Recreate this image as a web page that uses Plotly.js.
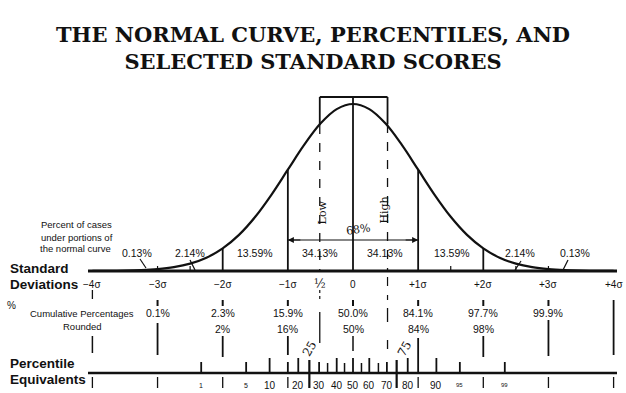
<!DOCTYPE html>
<html><head><meta charset="utf-8">
<script src="https://cdn.plot.ly/plotly-3.0.1.min.js"></script>
<style>html,body{margin:0;padding:0;background:#fff}#chart{width:626px;height:393px}</style>
</head><body><div id="chart"></div>
<script>
// ---- data ----
const curveZ = [-4,-3.75,-3.5,-3.25,-3,-2.75,-2.5,-2.25,-2,-1.75,-1.5,-1.25,-1,-0.75,-0.5,-0.25,0,0.25,0.5,0.75,1,1.25,1.5,1.75,2,2.25,2.5,2.75,3,3.25,3.5,3.75,4];
const curveDensity = [0.0001,0.0004,0.0009,0.0020,0.0044,0.0091,0.0175,0.0317,0.0540,0.0863,0.1295,0.1826,0.2420,0.3011,0.3521,0.3867,0.3989,0.3867,0.3521,0.3011,0.2420,0.1826,0.1295,0.0863,0.0540,0.0317,0.0175,0.0091,0.0044,0.0020,0.0009,0.0004,0.0001];
const sigmaValues = [-4,-3,-2,-1,0,1,2,3,4];
const sigmaLabels = ['\u22124\u03c3','\u22123\u03c3','\u22122\u03c3','\u22121\u03c3','0','+1\u03c3','+2\u03c3','+3\u03c3','+4\u03c3'];
const regionLabels = ['0.13%','2.14%','13.59%','34.13%','34.13%','13.59%','2.14%','0.13%'];
const cumulativeZ = [-3,-2,-1,0,1,2,3];
const cumulativePct = ['0.1%','2.3%','15.9%','50.0%','84.1%','97.7%','99.9%'];
const roundedPct = ['','2%','16%','50%','84%','98%',''];
const percentileLabels = ['1','5','10','20','30','40','50','60','70','80','90','95','99'];
const percentileZ = [-2.33,-1.64,-1.28,-0.84,-0.52,-0.25,0,0.25,0.52,0.84,1.28,1.64,2.33];
const minorPercentileZ = [-0.39,-0.13,0.13,0.39];
const quartileZ = [-0.67,0.67];
const quartileLabels = ['25','75'];
const bandZ = [-0.51,0.53];

// ---- layout helpers (pixel geometry) ----
const H = 393, CX = 353, SX = 65.15, BASE = 271, PXD = 418.6;
const P = px => 1 - px / H;               // pixel row -> paper y
const Zp = px => (px - CX) / SX;          // pixel column -> z
const dens = z => { let i = curveZ.indexOf(z); return i >= 0 ? curveDensity[i] : 0; };
const ink = '#111';
const sans = 'Liberation Sans, Arial, sans-serif';
const hand = 'DejaVu Serif, serif';
const shapes = [], ann = [];
function vline(z, py0, py1, w, dash) {
  shapes.push({type:'line', xref:'x', yref:'paper', x0:z, x1:z, y0:P(py0), y1:P(py1),
    line:{color:ink, width:w||1.5, dash:dash||'solid'}});
}
function hline(z0, z1, py, w) {
  shapes.push({type:'line', xref:'x', yref:'paper', x0:z0, x1:z1, y0:P(py), y1:P(py), line:{color:ink, width:w||1.5}});
}
function txt(z, py, s, size, opts) {
  ann.push(Object.assign({xref:'x', yref:'paper', x:z, y:P(py), text:s, showarrow:false,
    xanchor:'center', yanchor:'middle', font:{family:sans, size:size, color:ink}}, opts||{}));
}

// baseline of curve
hline(Zp(88), Zp(617), BASE, 3);
// region boundaries under the curve
[-2,-1,1,2].forEach(z => shapes.push({type:'line', xref:'x', yref:'y', x0:z, x1:z, y0:0, y1:dens(z), line:{color:ink, width:1.8}}));
vline(0, BASE, 98, 1.8);
// small ticks on the baseline
[-3,-2.5,1.5,2.5,3].forEach(z => vline(z, BASE, 266, 1.2));
// box over the middle band (sides solid down to the curve, dashed below)
const bandTop = [125, 124];
hline(bandZ[0], bandZ[1], 97, 2);
bandZ.forEach((z,i) => {
  vline(z, 97, bandTop[i], 1.8);
  vline(z, bandTop[i], BASE, 1.3, 'dash');
});
// 68% arrow
hline(-1, 1, 240, 1.2);
ann.push({xref:'x', yref:'paper', x:1, y:P(240), ax:-14, ay:0, text:'', showarrow:true, arrowhead:2, arrowsize:1, arrowwidth:1.2, arrowcolor:ink});
ann.push({xref:'x', yref:'paper', x:-1, y:P(240), ax:14, ay:0, text:'', showarrow:true, arrowhead:2, arrowsize:1, arrowwidth:1.2, arrowcolor:ink});
txt(0.08, 229, '68%', 11, {font:{family:hand, size:11, color:ink}, textangle:-8});
txt(-0.47, 212, 'Low', 11, {font:{family:hand, size:11, color:ink}, textangle:-90});
txt(0.47, 210, 'High', 11, {font:{family:hand, size:11, color:ink}, textangle:-90});

// region percentages
const regionX = [137,190,255,320,385,452,520,575];
regionLabels.forEach((s,i) => txt(Zp(regionX[i]), 253, s, 10.5));
// leader lines for tail labels
[[140,259,146,268],[190,260,195,270],[521,261,515,270],[568,260,563,270]].forEach(a =>
  shapes.push({type:'line', xref:'x', yref:'paper', x0:Zp(a[0]), x1:Zp(a[2]), y0:P(a[1]), y1:P(a[3]), line:{color:ink, width:1.2}}));
// caption on the left
txt(Zp(39), 225, 'Percent of cases', 9.5, {xanchor:'left'});
txt(Zp(39), 237, 'under portions of', 9.5, {xanchor:'left'});
txt(Zp(38), 249, 'the normal curve', 9.5, {xanchor:'left'});

// standard deviations row
txt(Zp(8), 268, '<b>Standard</b>', 13.5, {xanchor:'left'});
txt(Zp(8), 284, '<b>Deviations</b>', 13.5, {xanchor:'left'});
sigmaValues.forEach((z,i) => txt(z, 284, sigmaLabels[i], 10));
txt(bandZ[0], 284, '\u00bd', 12, {font:{family:hand, size:12, color:ink}});
vline(bandZ[0], 290, 300, 1.2, 'dot');
vline(bandZ[1], 277, 300, 1.2, 'dash');

// cumulative percentages
txt(Zp(11), 305, '%', 10, {});
txt(Zp(82), 313, 'Cumulative Percentages', 9.5);
txt(Zp(82), 326, 'Rounded', 9.5);
cumulativeZ.forEach((z,i) => {
  vline(z, 300, 306, 2);
  txt(z, 313, cumulativePct[i], 10.5);
  if (roundedPct[i]) txt(z, 329, roundedPct[i], 10.5);
});
vline(-4, 290, 300, 1.3, 'dash');
vline(-4, 336, 353, 1.5);
vline(-3, 323, 355, 1.8);
vline(-2, 336, 357, 1.8);
vline(-1, 336, 355, 1.8);
vline(0, 336, 351, 1.5);
vline(1, 338, 373, 1.8);
vline(2, 336, 357, 1.8);
vline(3, 320, 356, 1.8);
vline(4, 300, 355, 1.8);
vline(bandZ[1], 308, 322, 1.3);
vline(bandZ[1], 340, 355, 1.3, 'dash');
vline(bandZ[0], 312, 343, 1.3);

// percentile equivalents
txt(Zp(8), 363, '<b>Percentile</b>', 13.5, {xanchor:'left'});
txt(Zp(8), 379, '<b>Equivalents</b>', 13.5, {xanchor:'left'});
hline(Zp(88), Zp(617), 373, 2.5);
percentileZ.forEach((z,i) => {
  vline(z, 373, (Math.abs(z) > 1.5 || Math.abs(z) === 0.52) ? 362 : 358, 1.8);
  txt(z, 385, percentileLabels[i], (i===0||i===1) ? 7 : (i>=11 ? 6 : 10));
});
minorPercentileZ.forEach(z => vline(z, 373, 363, 1.5));
vline(-1, 373, 362, 1.8);
quartileZ.forEach((z,i) => {
  vline(z, 360, 388, 2.2);
  txt(z + (i ? 0.12 : 0), 349, quartileLabels[i], 12, {font:{family:hand, size:12, color:ink}, textangle:-60});
});
sigmaValues.forEach(z => { if (z !== 0) vline(z, 377, 388, 1.3); });

const data = [{
  x: curveZ, y: curveDensity, type:'scatter', mode:'lines',
  line:{color:ink, width:2.2, shape:'spline', smoothing:1}, hoverinfo:'skip'
}];
const layout = {
  width:626, height:393, margin:{l:0,r:0,t:0,b:0},
  paper_bgcolor:'#fff', plot_bgcolor:'#fff', showlegend:false,
  title:{text:'THE NORMAL CURVE, PERCENTILES, AND<br>SELECTED STANDARD SCORES',
    x:0.5, xanchor:'center', y:1-42/393, yanchor:'middle',
    font:{family:'DejaVu Serif, serif', size:21, color:ink, weight:'bold'}},
  xaxis:{range:[Zp(0), Zp(626)], visible:false, fixedrange:true},
  yaxis:{range:[-(H-BASE)/PXD, BASE/PXD], visible:false, fixedrange:true},
  shapes:shapes, annotations:ann
};
Plotly.newPlot('chart', data, layout, {staticPlot:true, displayModeBar:false});
</script></body></html>
